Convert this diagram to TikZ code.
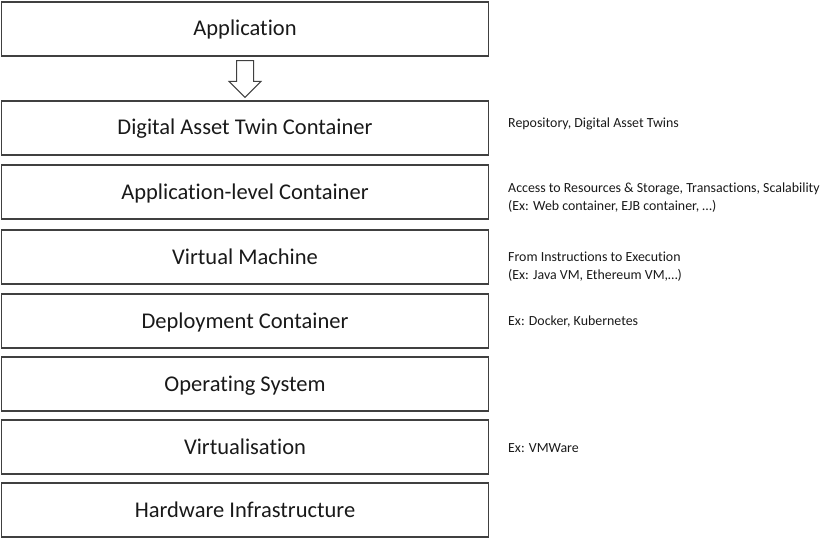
\documentclass[tikz,border=0pt]{standalone}
\usepackage{fontspec}
\setmainfont{Carlito}[Ligatures=NoCommon]
\usetikzlibrary{positioning}
\tikzset{
  layer/.style={draw=black!75, line width=1.1pt, minimum width=487pt, minimum height=54pt,
    inner sep=0pt, text height=18pt, text depth=4pt, font=\fontsize{22.5}{24}\selectfont, text=black!90},
  note/.style={anchor=west, align=left, inner sep=0pt, font=\fontsize{13.9}{18}\selectfont, text=black!90}
}
\begin{document}
\begin{tikzpicture}[x=1pt, y=-1pt]
  \useasboundingbox (0,0) rectangle (837,540);

  % Top: the application
  \node[layer] (app) at (245,29) {Application};

  % Stack of layers
  \node[layer] (dat)  at (245,128) {Digital Asset Twin Container};
  \node[layer] (alc)  at (245,192) {Application-level Container};
  \node[layer] (vm)   at (245,257) {Virtual Machine};
  \node[layer] (dep)  at (245,321) {Deployment Container};
  \node[layer] (os)   at (245,384) {Operating System};
  \node[layer] (virt) at (245,447) {Virtualisation};
  \node[layer] (hw)   at (245,510) {Hardware Infrastructure};

  % Hollow arrow from the application down to the stack
  \draw[draw=black!75, line width=1pt, fill=white, line join=miter]
    ([xshift=-8.5pt,yshift=-4pt]app.south) -- ([xshift=8.5pt,yshift=-4pt]app.south)
    -- ([xshift=8.5pt,yshift=19pt]dat.north) -- ([xshift=16pt,yshift=19pt]dat.north)
    -- ([yshift=3pt]dat.north) -- ([xshift=-16pt,yshift=19pt]dat.north)
    -- ([xshift=-8.5pt,yshift=19pt]dat.north) -- cycle;

  % Notes beside the layers
  \node[note] (ndat) at (508,124) {Repository, Digital Asset Twins};
  \node[note] (nalc) at (508,198) {Access to Resources \& Storage, Transactions, Scalability\\(Ex: Web container, EJB container, \dots)};
  \node[note] (nvm)  at (508,267) {From Instructions to Execution\\(Ex: Java VM, Ethereum VM,\dots)};
  \node[note] (ndep) at (508,322) {Ex: Docker, Kubernetes};
  \node[note] (nvirt) at (508,448) {Ex: VMWare};
\end{tikzpicture}
\end{document}
